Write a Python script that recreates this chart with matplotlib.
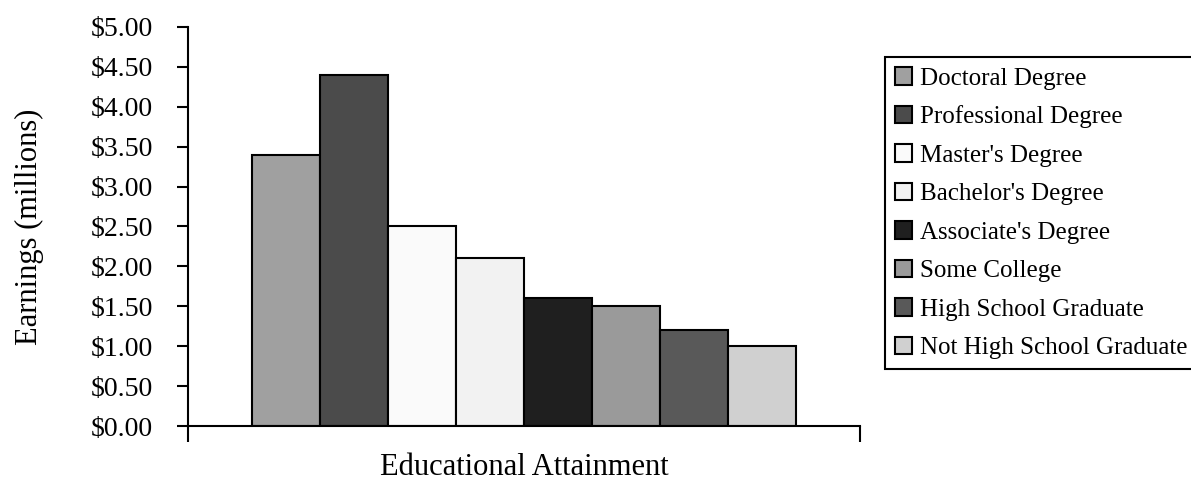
import matplotlib.pyplot as plt
from matplotlib.ticker import FuncFormatter

# data
categories = ["Doctoral Degree", "Professional Degree", "Master's Degree",
              "Bachelor's Degree", "Associate's Degree", "Some College",
              "High School Graduate", "Not High School Graduate"]
earnings = [3.4, 4.4, 2.5, 2.1, 1.6, 1.5, 1.2, 1.0]
colors = ["#a0a0a0", "#4b4b4b", "#fafafa", "#f2f2f2",
          "#1f1f1f", "#9a9a9a", "#595959", "#d0d0d0"]
yticks = [0.0, 0.5, 1.0, 1.5, 2.0, 2.5, 3.0, 3.5, 4.0, 4.5, 5.0]

plt.rcParams['font.family'] = ['Liberation Serif', 'DejaVu Serif']

fig = plt.figure(figsize=(11.91, 4.82), dpi=100)
ax = fig.add_axes([188 / 1191, 1 - 426 / 482, 672 / 1191, 399 / 482])

for i, (name, val, col) in enumerate(zip(categories, earnings, colors)):
    ax.bar(i, val, width=1.0, color=col, edgecolor='black', linewidth=1.5, label=name)

pad = 0.95
xmin, xmax = -0.5 - pad, len(categories) - 0.5 + pad
ax.set_xlim(xmin, xmax)
ax.set_ylim(0, 5)
ax.set_yticks(yticks)
ax.yaxis.set_major_formatter(FuncFormatter(lambda v, p: "${:.2f}".format(v)))
ax.set_xticks([xmin, xmax])
ax.set_xticklabels(["", ""])

for s in ['top', 'right']:
    ax.spines[s].set_visible(False)
for s in ['left', 'bottom']:
    ax.spines[s].set_linewidth(1.5)
ax.tick_params(axis='y', direction='out', length=8, width=1.5, labelsize=20, pad=17)
ax.tick_params(axis='x', direction='out', length=11.5, width=1.5)

ax.set_ylabel("Earnings (millions)", fontsize=22)
ax.yaxis.set_label_coords(-0.215, 0.5)
ax.set_xlabel("Educational Attainment", fontsize=22, va='top')
ax.xaxis.set_label_coords(0.5, -0.068)

leg = ax.legend(loc='upper left', bbox_to_anchor=(885 / 1191, 1 - 57 / 482),
                bbox_transform=fig.transFigure, fontsize=18, frameon=True,
                fancybox=False, edgecolor='black', framealpha=1,
                handlelength=0.7, handleheight=0.7, handletextpad=0.3,
                labelspacing=0.64, borderpad=0.4, borderaxespad=0)
leg.get_frame().set_linewidth(1.5)

fig.savefig("out.png", dpi=100)
